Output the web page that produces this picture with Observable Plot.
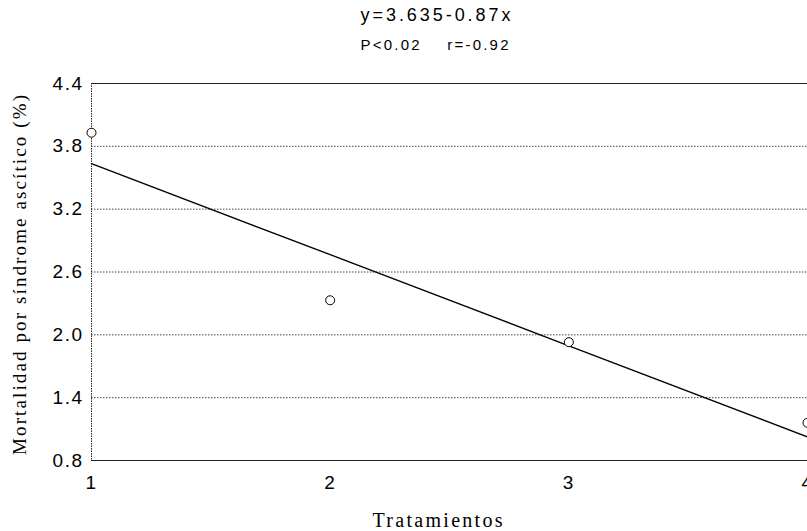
<!DOCTYPE html>
<html>
<head>
<meta charset="utf-8">
<script src="https://cdn.jsdelivr.net/npm/d3@7"></script>
<script src="https://cdn.jsdelivr.net/npm/@observablehq/plot@0.6"></script>
<style>
  body { margin: 0; background: #fff; }
</style>
</head>
<body>
<div id="chart"></div>
<script>
const treatments = [1, 2, 3, 4];
const mortality = [3.93, 2.33, 1.93, 1.16];
const xTicks = [1, 2, 3, 4];
const yTicks = [0.8, 1.4, 2.0, 2.6, 3.2, 3.8, 4.4];
const intercept = 3.635;
const slope = -0.87;
const titleText = "y=3.635-0.87x";
const subtitleText = "P<0.02    r=-0.92";
const yLabel = "Mortalidad por síndrome ascítico (%)";
const xLabel = "Tratamientos";

const points = treatments.map((t, i) => ({t, m: mortality[i]}));
const fit = treatments.map(t => ({t, m: intercept + slope * (t - treatments[0])}));
const yMin = yTicks[0], yMax = yTicks[yTicks.length - 1];

const serif = "'Liberation Serif', 'Times New Roman', serif";
const chart = Plot.plot({
  width: 807,
  height: 531,
  marginLeft: 91,
  marginRight: 0,
  marginTop: 83,
  marginBottom: 71,
  style: {fontFamily: "'Liberation Sans', Arial, sans-serif", fontSize: "19px", color: "#000", background: "#fff"},
  x: {domain: [1, 4], ticks: xTicks, tickFormat: d => String(d), tickSize: 0, tickPadding: 15, label: null},
  y: {domain: [yMin, yMax], ticks: yTicks, tickFormat: d => d.toFixed(1), tickSize: 0, tickPadding: 8, label: null},
  marks: [
    Plot.ruleY(yTicks.slice(1, -1), {stroke: "#444", strokeWidth: 1, strokeDasharray: "1.5,1.5"}),
    Plot.ruleY([yMin, yMax], {stroke: "#222", strokeWidth: 1.2}),
    Plot.ruleX([treatments[0]], {stroke: "#222", strokeWidth: 1, strokeDasharray: "1.5,1"}),
    Plot.line(fit, {x: "t", y: "m", stroke: "#000", strokeWidth: 1.4}),
    Plot.dot(points, {x: "t", y: "m", r: 4.5, stroke: "#000", strokeWidth: 1, fill: "white"}),
    Plot.text([titleText], {frameAnchor: "top", dx: -14, dy: -68, fontSize: 18, lineAnchor: "middle"}),
    Plot.text([subtitleText], {frameAnchor: "top", dx: -15, dy: -38, fontSize: 15, lineAnchor: "middle"}),
    Plot.text([yLabel], {frameAnchor: "left", textAnchor: "middle", rotate: -90, dx: -72, dy: 3, fontSize: 19, fontFamily: serif, lineAnchor: "middle"}),
    Plot.text([xLabel], {frameAnchor: "bottom", dx: -12, dy: 60, fontSize: 20, fontFamily: serif, lineAnchor: "middle"})
  ]
});
document.getElementById("chart").append(chart);

// stretch texts to the widths seen in the reference (wide letter spacing of the scan)
const lengths = new Map([[titleText, 150], [subtitleText, 148], [yLabel, 360], [xLabel, 130]]);
d3.select(chart).selectAll("text").each(function() {
  const L = lengths.get(this.textContent);
  if (L) { this.setAttribute("textLength", L); this.setAttribute("lengthAdjust", "spacing"); }
});
d3.select(chart).selectAll('g[aria-label="y-axis tick label"] text, g[aria-label="x-axis tick label"] text').style("letter-spacing", "1.5px");
</script>
</body>
</html>
